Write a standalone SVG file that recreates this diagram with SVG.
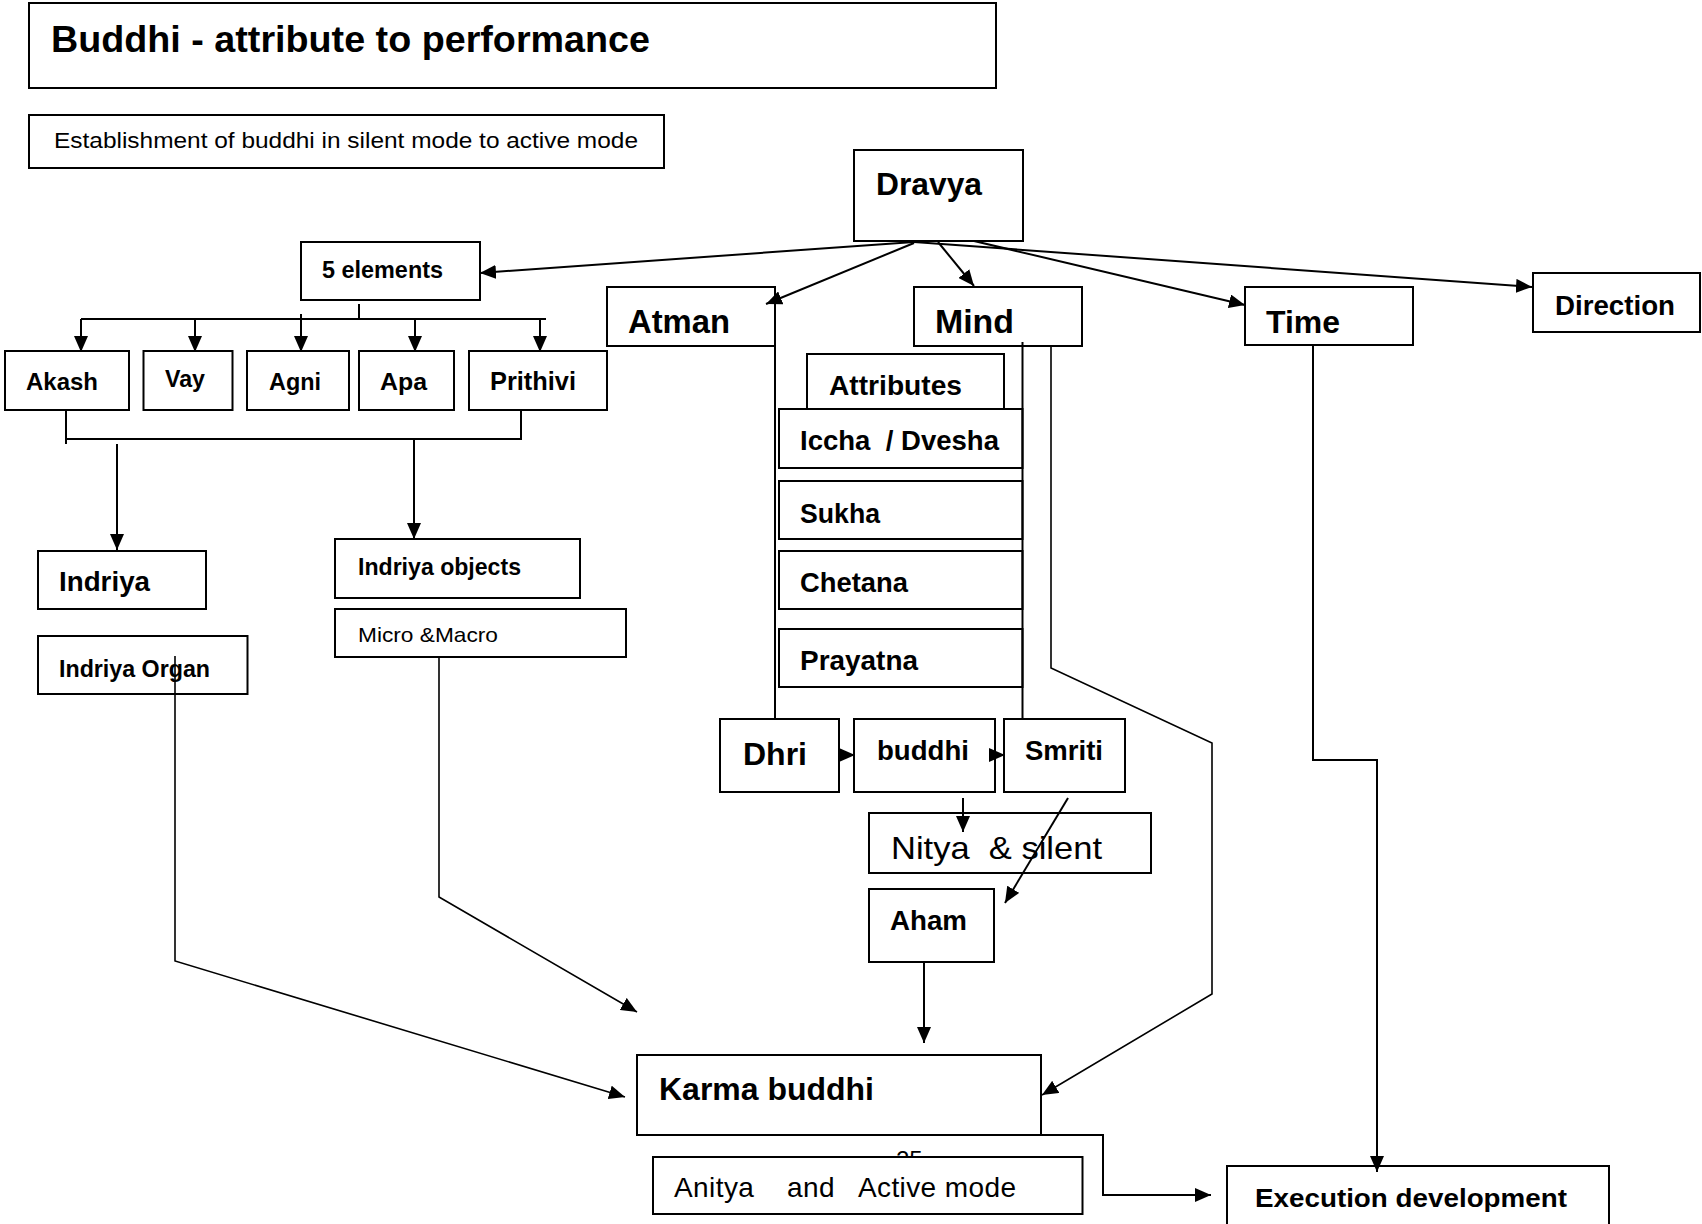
<svg xmlns="http://www.w3.org/2000/svg" width="1702" height="1224" viewBox="0 0 1702 1224">
  <style>
    .box { fill: #ffffff; stroke: #000000; stroke-width: 2; }
    .lbl { font-family: "Liberation Sans", Arial, sans-serif; font-weight: bold; fill: #000000; white-space: pre; }
    .reg { font-family: "Liberation Sans", Arial, sans-serif; font-weight: normal; fill: #000000; white-space: pre; }
    .wire { fill: none; stroke: #000000; stroke-width: 2; }
    .thin { fill: none; stroke: #000000; stroke-width: 1.6; }
  </style>
  <defs>
    <marker id="arrow" markerUnits="userSpaceOnUse" markerWidth="16" markerHeight="14" refX="16" refY="7" orient="auto">
      <path d="M0,0 L16,7 L0,14 z" fill="#000000"/>
    </marker>
  </defs>
  <rect width="1702" height="1224" fill="#ffffff"/>

  <!-- page number, partly hidden behind the lower box -->
  <text class="reg" x="896" y="1168" font-size="24">25</text>

  <g id="title">
    <rect class="box" x="29" y="3" width="967" height="85"/>
    <text class="lbl" x="51" y="52" font-size="36" textLength="599" lengthAdjust="spacingAndGlyphs">Buddhi - attribute to performance</text>
  </g>
  <g id="subtitle">
    <rect class="box" x="29" y="115" width="635" height="53"/>
    <text class="reg" x="54" y="148" font-size="22" textLength="584" lengthAdjust="spacingAndGlyphs">Establishment of buddhi in silent mode to active mode</text>
  </g>

  <g id="dravya">
    <rect class="box" x="854" y="150" width="169" height="91"/>
    <text class="lbl" x="876" y="195" font-size="32" textLength="106" lengthAdjust="spacingAndGlyphs">Dravya</text>
  </g>
  <g id="five-elements">
    <rect class="box" x="301" y="242" width="179" height="58"/>
    <text class="lbl" x="322" y="278" font-size="23" textLength="121" lengthAdjust="spacingAndGlyphs">5 elements</text>
  </g>
  <g id="atman">
    <rect class="box" x="607" y="287" width="168" height="59"/>
    <text class="lbl" x="628" y="333" font-size="32.5" textLength="102" lengthAdjust="spacingAndGlyphs">Atman</text>
  </g>
  <g id="mind">
    <rect class="box" x="914" y="287" width="168" height="59"/>
    <text class="lbl" x="935" y="333" font-size="33" textLength="79" lengthAdjust="spacingAndGlyphs">Mind</text>
  </g>
  <g id="time">
    <rect class="box" x="1245" y="287" width="168" height="58"/>
    <text class="lbl" x="1266" y="333" font-size="31.5" textLength="74" lengthAdjust="spacingAndGlyphs">Time</text>
  </g>
  <g id="direction">
    <rect class="box" x="1533" y="273" width="167" height="59"/>
    <text class="lbl" x="1555" y="315" font-size="27.5" textLength="120" lengthAdjust="spacingAndGlyphs">Direction</text>
  </g>

  <g id="akash">
    <rect class="box" x="5" y="351" width="124" height="59"/>
    <text class="lbl" x="26" y="390" font-size="24" textLength="72" lengthAdjust="spacingAndGlyphs">Akash</text>
  </g>
  <g id="vay">
    <rect class="box" x="143.5" y="351" width="89" height="59"/>
    <text class="lbl" x="165" y="387" font-size="23" textLength="40" lengthAdjust="spacingAndGlyphs">Vay</text>
  </g>
  <g id="agni">
    <rect class="box" x="247" y="351" width="102" height="59"/>
    <text class="lbl" x="269" y="390" font-size="23.5" textLength="52" lengthAdjust="spacingAndGlyphs">Agni</text>
  </g>
  <g id="apa">
    <rect class="box" x="359" y="351" width="95" height="59"/>
    <text class="lbl" x="380" y="390" font-size="24.5" textLength="47" lengthAdjust="spacingAndGlyphs">Apa</text>
  </g>
  <g id="prithivi">
    <rect class="box" x="469" y="351" width="138" height="59"/>
    <text class="lbl" x="490" y="390" font-size="25" textLength="86" lengthAdjust="spacingAndGlyphs">Prithivi</text>
  </g>

  <g id="indriya">
    <rect class="box" x="38" y="551" width="168" height="58"/>
    <text class="lbl" x="59" y="591" font-size="27.5" textLength="91" lengthAdjust="spacingAndGlyphs">Indriya</text>
  </g>
  <g id="indriya-organ">
    <rect class="box" x="38" y="636" width="209.5" height="58"/>
    <text class="lbl" x="59" y="677" font-size="23.3" textLength="151" lengthAdjust="spacingAndGlyphs">Indriya Organ</text>
  </g>
  <g id="indriya-objects">
    <rect class="box" x="335" y="539" width="245" height="59"/>
    <text class="lbl" x="358" y="575" font-size="23" textLength="163" lengthAdjust="spacingAndGlyphs">Indriya objects</text>
  </g>
  <g id="micro-macro">
    <rect class="box" x="335" y="609" width="291" height="48"/>
    <text class="reg" x="358" y="642" font-size="21" textLength="140" lengthAdjust="spacingAndGlyphs">Micro &amp;Macro</text>
  </g>

  <g id="attributes">
    <rect class="box" x="807" y="354" width="197" height="55"/>
    <text class="lbl" x="829" y="395" font-size="28" textLength="133" lengthAdjust="spacingAndGlyphs">Attributes</text>
  </g>
  <g id="iccha-dvesha">
    <rect class="box" x="779" y="409" width="243.5" height="59"/>
    <text class="lbl" x="800" y="450" font-size="27.5" textLength="199" lengthAdjust="spacingAndGlyphs">Iccha  / Dvesha</text>
  </g>
  <g id="sukha">
    <rect class="box" x="779" y="481" width="243.5" height="58"/>
    <text class="lbl" x="800" y="523" font-size="27" textLength="80" lengthAdjust="spacingAndGlyphs">Sukha</text>
  </g>
  <g id="chetana">
    <rect class="box" x="779" y="551" width="243.5" height="58"/>
    <text class="lbl" x="800" y="592" font-size="27.5" textLength="108" lengthAdjust="spacingAndGlyphs">Chetana</text>
  </g>
  <g id="prayatna">
    <rect class="box" x="779" y="629" width="243.5" height="58"/>
    <text class="lbl" x="800" y="670" font-size="28" textLength="118" lengthAdjust="spacingAndGlyphs">Prayatna</text>
  </g>

  <g id="dhri">
    <rect class="box" x="720" y="719" width="119" height="73"/>
    <text class="lbl" x="743" y="765" font-size="32" textLength="64" lengthAdjust="spacingAndGlyphs">Dhri</text>
  </g>
  <g id="buddhi">
    <rect class="box" x="854" y="719" width="141" height="73"/>
    <text class="lbl" x="877" y="760" font-size="27.5" textLength="92" lengthAdjust="spacingAndGlyphs">buddhi</text>
  </g>
  <g id="smriti">
    <rect class="box" x="1004" y="719" width="121" height="73"/>
    <text class="lbl" x="1025" y="760" font-size="27.6" textLength="78" lengthAdjust="spacingAndGlyphs">Smriti</text>
  </g>
  <g id="nitya-silent">
    <rect class="box" x="869" y="813" width="282" height="60"/>
    <text class="reg" x="891" y="859" font-size="32" textLength="211" lengthAdjust="spacingAndGlyphs">Nitya  &amp; silent</text>
  </g>
  <g id="aham">
    <rect class="box" x="869" y="889" width="125" height="73"/>
    <text class="lbl" x="890" y="930" font-size="27.6" textLength="77" lengthAdjust="spacingAndGlyphs">Aham</text>
  </g>
  <g id="karma-buddhi">
    <rect class="box" x="637" y="1055" width="404" height="80"/>
    <text class="lbl" x="659" y="1100" font-size="32" textLength="215" lengthAdjust="spacingAndGlyphs">Karma buddhi</text>
  </g>
  <g id="anitya-active">
    <rect class="box" x="653" y="1157" width="429.5" height="57"/>
    <text class="reg" x="674" y="1197" font-size="28" textLength="342" lengthAdjust="spacing">Anitya    and   Active mode</text>
  </g>
  <g id="execution-development">
    <rect class="box" x="1227" y="1166" width="382" height="60"/>
    <text class="lbl" x="1255" y="1207" font-size="26.4" textLength="312" lengthAdjust="spacingAndGlyphs">Execution development</text>
  </g>

  <g id="connectors">
    <!-- Dravya fan-out -->
    <line class="wire" x1="914" y1="242" x2="480" y2="273" marker-end="url(#arrow)"/>
    <line class="wire" x1="914" y1="243" x2="766" y2="304" marker-end="url(#arrow)"/>
    <line class="wire" x1="938" y1="242" x2="974" y2="286" marker-end="url(#arrow)"/>
    <line class="wire" x1="974" y1="241" x2="1245" y2="305" marker-end="url(#arrow)"/>
    <line class="wire" x1="914" y1="242" x2="1532" y2="287" marker-end="url(#arrow)"/>

    <!-- 5 elements to each element -->
    <line class="wire" x1="359" y1="304" x2="359" y2="319"/>
    <line class="wire" x1="81" y1="319" x2="546" y2="319"/>
    <line class="wire" x1="81" y1="319" x2="81" y2="352" marker-end="url(#arrow)"/>
    <line class="wire" x1="195" y1="319" x2="195" y2="352" marker-end="url(#arrow)"/>
    <line class="wire" x1="301" y1="314" x2="301" y2="352" marker-end="url(#arrow)"/>
    <line class="wire" x1="415" y1="319" x2="415" y2="352" marker-end="url(#arrow)"/>
    <line class="wire" x1="540" y1="319" x2="540" y2="352" marker-end="url(#arrow)"/>

    <!-- elements gathered into Indriya and Indriya objects -->
    <polyline class="wire" points="66,410 66,444"/>
    <polyline class="wire" points="66,439 521,439 521,410"/>
    <line class="wire" x1="117" y1="444" x2="117" y2="550" marker-end="url(#arrow)"/>
    <line class="wire" x1="414" y1="439" x2="414" y2="539" marker-end="url(#arrow)"/>

    <!-- Indriya Organ and Micro &Macro towards Karma buddhi -->
    <polyline class="thin" points="175,656 175,961 625,1097" marker-end="url(#arrow)"/>
    <polyline class="thin" points="439,657 439,897 637,1012" marker-end="url(#arrow)"/>

    <!-- Atman and Mind verticals -->
    <line class="wire" x1="775" y1="300" x2="775" y2="719"/>
    <line class="wire" x1="1022.5" y1="342" x2="1022.5" y2="719"/>
    <polyline class="thin" points="1051,346 1051,668 1212,743 1212,994 1042,1095" marker-end="url(#arrow)"/>

    <!-- Dhri, buddhi, Smriti chain -->
    <line class="wire" x1="839" y1="755" x2="855" y2="755" marker-end="url(#arrow)"/>
    <line class="wire" x1="995" y1="755" x2="1005" y2="755" marker-end="url(#arrow)"/>
    <line class="wire" x1="963" y1="798" x2="963" y2="832" marker-end="url(#arrow)"/>
    <line class="wire" x1="1068" y1="798" x2="1005" y2="903" marker-end="url(#arrow)"/>
    <line class="wire" x1="924" y1="962" x2="924" y2="1043" marker-end="url(#arrow)"/>

    <!-- towards Execution development -->
    <polyline class="wire" points="994,1135 1103,1135 1103,1195 1211,1195" marker-end="url(#arrow)"/>
    <polyline class="wire" points="1313,345 1313,760 1377,760 1377,1172" marker-end="url(#arrow)"/>
  </g>
</svg>
